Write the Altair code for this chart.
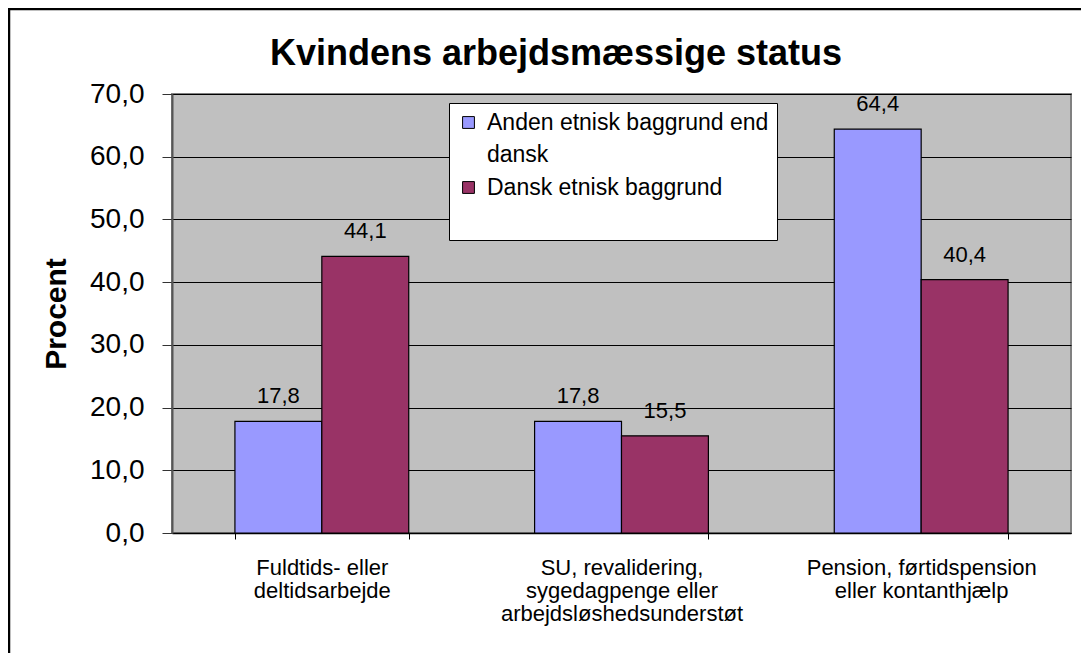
import altair as alt
import pandas as pd

title_text = "Kvindens arbejdsmæssige status"
categories = [
    "Fuldtids- eller deltidsarbejde",
    "SU, revalidering, sygedagpenge eller arbejdsløshedsunderstøt",
    "Pension, førtidspension eller kontanthjælp",
]
category_lines = [
    ["Fuldtids- eller", "deltidsarbejde"],
    ["SU, revalidering,", "sygedagpenge eller", "arbejdsløshedsunderstøt"],
    ["Pension, førtidspension", "eller kontanthjælp"],
]
series = ["Anden etnisk baggrund end dansk", "Dansk etnisk baggrund"]
series_lines = [["Anden etnisk baggrund end", "dansk"], ["Dansk etnisk baggrund"]]
values_anden = [17.8, 17.8, 64.4]
values_dansk = [44.1, 15.5, 40.4]
colors = ["#9999FF", "#993366"]
y_ticks = [0, 10, 20, 30, 40, 50, 60, 70]

rows = []
for c, a, d in zip(categories, values_anden, values_dansk):
    rows.append({"kategori": c, "gruppe": series[0], "procent": a})
    rows.append({"kategori": c, "gruppe": series[1], "procent": d})
df = pd.DataFrame(rows)


def lines_expr(keys, lines, field):
    expr = field
    for k, ln in reversed(list(zip(keys, lines))):
        arr = "[" + ",".join("'" + s + "'" for s in ln) + "]"
        expr = f"{field} == '{k}' ? {arr} : ({expr})"
    return expr


FONT = "Liberation Sans"

x_enc = alt.X(
    "kategori:N",
    sort=categories,
    title=None,
    scale=alt.Scale(paddingInner=0.42, paddingOuter=0.21),
    axis=alt.Axis(
        labelExpr=lines_expr(categories, category_lines, "datum.label"),
        labelAngle=0,
        labelFontSize=22,
        labelFont=FONT,
        labelColor="black",
        labelPadding=18,
        labelLineHeight=23,
        labelBaseline="top",
        tickBand="extent",
        tickSize=6,
        tickColor="black",
        domainColor="black",
        domainWidth=1.5,
        labelLimit=400,
        grid=False,
    ),
)

bars = alt.Chart(df).mark_bar(stroke="black", strokeWidth=1.2).encode(
    x=x_enc,
    xOffset=alt.XOffset("gruppe:N", sort=series, scale=alt.Scale(paddingInner=0, paddingOuter=0)),
    y=alt.Y(
        "procent:Q",
        title="Procent",
        scale=alt.Scale(domain=[0, 70], nice=False),
        axis=alt.Axis(
            values=y_ticks,
            labelExpr="replace(format(datum.value, '.1f'), '.', ',')",
            labelFontSize=28,
            labelFont=FONT,
            labelColor="black",
            labelPadding=18,
            tickSize=10,
            tickColor="#333333",
            domainColor="#555555",
            domainWidth=2,
            grid=True,
            gridColor="black",
            gridWidth=1,
            titleFont=FONT,
            titleFontSize=30,
            titleFontWeight="bold",
            titleColor="black",
            titlePadding=18,
        ),
    ),
    color=alt.Color(
        "gruppe:N",
        sort=series,
        scale=alt.Scale(domain=series, range=colors),
        legend=alt.Legend(
            title=" ",
            titleOrient="bottom",
            titleFontSize=20,
            titlePadding=12,
            orient="none",
            legendX=277,
            legendY=9,
            fillColor="white",
            strokeColor="black",
            padding=8,
            symbolType="square",
            symbolSize=140,
            symbolStrokeColor="black",
            symbolStrokeWidth=1,
            labelFont=FONT,
            labelFontSize=23,
            labelColor="black",
            labelLimit=400,
            labelExpr=lines_expr(series, series_lines, "datum.label"),
            rowPadding=9,
            labelOffset=7,
        ),
    ),
)

labels = alt.Chart(df).transform_calculate(
    txt="replace(format(datum.procent, '.1f'), '.', ',')"
).mark_text(baseline="alphabetic", dy=-18, fontSize=22, font=FONT, color="black").encode(
    x=alt.X("kategori:N", sort=categories),
    xOffset=alt.XOffset("gruppe:N", sort=series),
    y="procent:Q",
    text="txt:N",
)

one = pd.DataFrame({"t": [title_text]})

title = alt.Chart(one).mark_text(
    font=FONT, fontSize=36, fontWeight="bold", color="black", align="center", baseline="alphabetic"
).encode(x=alt.value(384), y=alt.value(-29), text="t:N")

frame = alt.Chart(one).mark_rect(
    fillOpacity=0, stroke="black", strokeWidth=2.5
).encode(x=alt.value(-163), x2=alt.value(1000), y=alt.value(-85), y2=alt.value(600))

chart = alt.layer(bars, labels, title, frame).properties(
    width=899,
    height=439,
    autosize="none",
    padding={"left": 164, "top": 86, "right": 10, "bottom": 120},
).configure(
    background="white",
    style={"guide-label": {"lineHeight": 32}},
).configure_view(
    fill="#C0C0C0", stroke="#808080", strokeWidth=2
)

chart.save("out.html", embed_options={"renderer": "svg", "actions": False})
